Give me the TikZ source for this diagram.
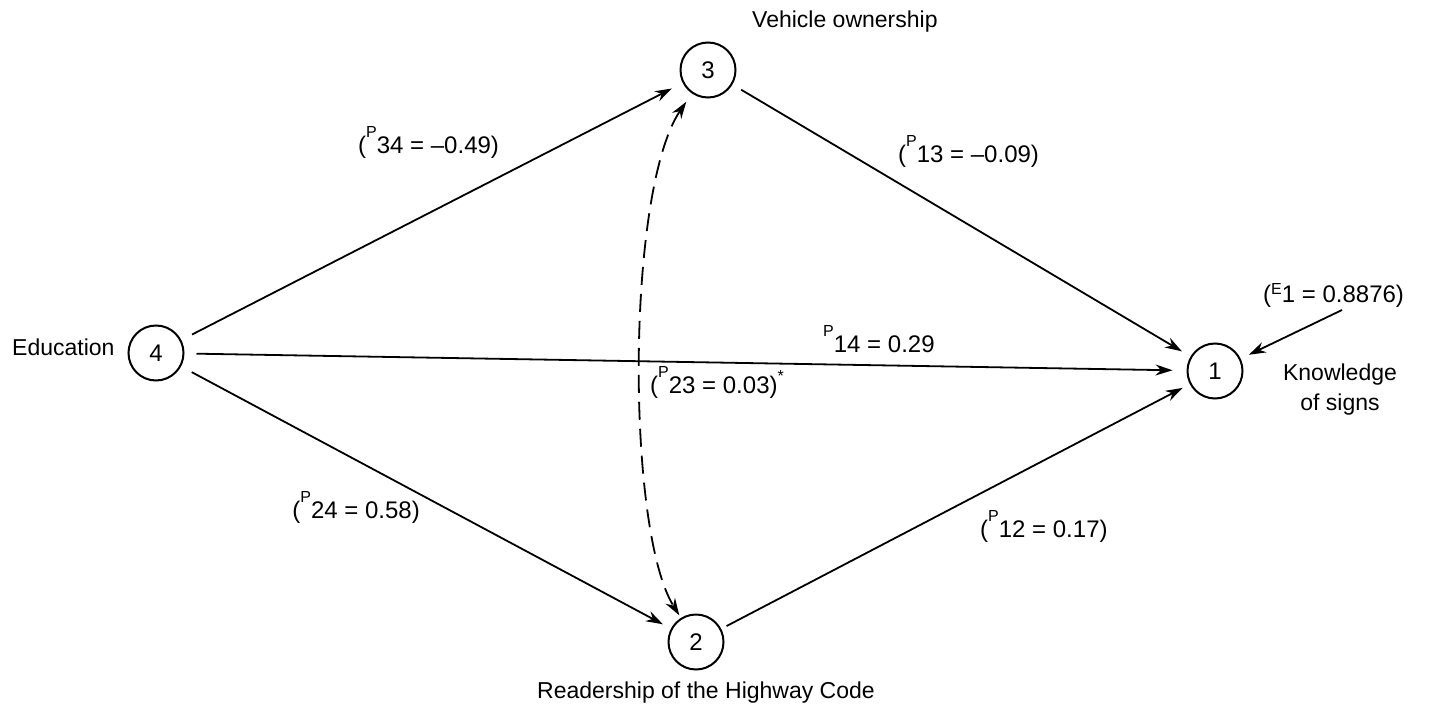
\documentclass[tikz,border=0pt]{standalone}
\usepackage{fontspec}
\setmainfont{Liberation Sans}
\usetikzlibrary{arrows.meta}
\newcommand\hiP[2][0.64em]{\raisebox{#1}{\fontsize{16pt}{16pt}\selectfont #2}}
\begin{document}
\begin{tikzpicture}[x=1pt,y=-1pt,
  every node/.style={font=\fontsize{23pt}{28pt}\selectfont},
  var/.style={circle,draw,line width=2pt,minimum size=55pt,inner sep=0pt,
    font=\fontsize{24pt}{28pt}\selectfont},
  lbl/.style={inner sep=0pt},
  plbl/.style={inner sep=0pt,font=\fontsize{24pt}{28pt}\selectfont},
  link/.style={line width=1.8pt,-{Stealth[length=17pt,width=11pt]}},
  dlink/.style={line width=1.8pt,dash pattern=on 18pt off 9pt,
    {Stealth[length=17pt,width=11pt]}-{Stealth[length=17pt,width=11pt]}}
]
\useasboundingbox (0,0) rectangle (1432,717);

% variables
\node[var] (n4) at (156,353) {4};
\node[var] (n3) at (708,70) {3};
\node[var] (n1) at (1215,371) {1};
\node[var] (n2) at (696,642) {2};

% variable names
\node[lbl,anchor=base west] (edu) at (12,355) {Education};
\node[lbl,anchor=base west] (veh) at (752,28) {Vehicle ownership};
\node[lbl,anchor=base] (read) at (706,698) {Readership of the Highway Code};
\node[lbl,anchor=base] (know) at (1340,380) {Knowledge};
\node[lbl,anchor=base] (signs) at (1340,410) {of signs};

% coefficients
\node[plbl,anchor=base west] (p34) at (358,153) {(\hiP{P}34 = –0.49)};
\node[plbl,anchor=base west] (p13) at (898,162) {(\hiP{P}13 = –0.09)};
\node[plbl,anchor=base west] (p14) at (823,352) {\hiP{P}14 = 0.29};
\node[plbl,anchor=base west] (p23) at (650,393) {(\hiP{P}23 = 0.03)\hiP[0.5em]{*}};
\node[plbl,anchor=base east] (p24) at (420,518) {(\hiP{P}24 = 0.58)};
\node[plbl,anchor=base west] (p12) at (980,537) {(\hiP{P}12 = 0.17)};
\node[plbl,anchor=base west] (e1) at (1263,302) {(\hiP[0.3em]{E}1 = 0.8876)};

% paths
\draw[link,shorten <=12pt,shorten >=12pt] (n4) -- (n3);
\draw[link,shorten <=12pt,shorten >=14pt] (n4) -- (n1);
\draw[link,shorten <=12pt,shorten >=9pt] (n4) -- (n2);
\draw[link,shorten <=10pt,shorten >=10pt] (n3) -- (n1);
\draw[link,shorten <=6pt,shorten >=8pt] (n2) -- (n1);
\coordinate (e1s) at (1342,310);
\draw[link,shorten >=9pt] (e1s) -- (n1);

% correlation
\draw[dlink,shorten <=10pt,shorten >=3pt] (n3) .. controls (626,190) and (626,530) .. (n2);
\end{tikzpicture}
\end{document}
